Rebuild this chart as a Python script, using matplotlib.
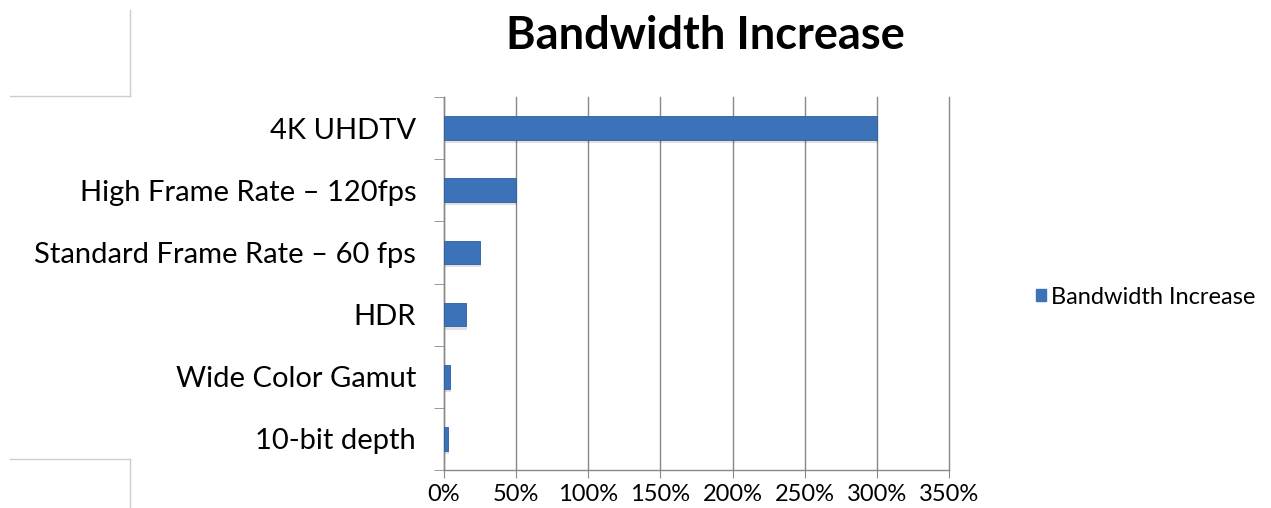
import matplotlib.pyplot as plt
from matplotlib.lines import Line2D
from matplotlib.patches import Patch
import numpy as np

categories = ["4K UHDTV", "High Frame Rate – 120fps", "Standard Frame Rate – 60 fps",
              "HDR", "Wide Color Gamut", "10-bit depth"]
values = [300, 50, 25, 15, 4, 3]
xticks = [0, 50, 100, 150, 200, 250, 300, 350]
xticklabels = [f"{t}%" for t in xticks]
series_name = "Bandwidth Increase"

plt.rcParams['font.family'] = ['Lato', 'DejaVu Sans']

W, H = 1271, 508
fig = plt.figure(figsize=(W / 100, H / 100), dpi=100)
ax = fig.add_axes([444 / W, 1 - 470 / H, (949 - 444) / W, (470 - 97) / H])

n = len(categories)
y = np.arange(n)[::-1]
color = "#3C72B8"
# soft shadow
ax.barh(y - 0.05, values, height=0.38, color="#000000", alpha=0.12, zorder=2, left=0.8)
ax.barh(y, values, height=0.38, color=color, edgecolor="#2f5f9e", linewidth=0.6, zorder=3,
        label=series_name)

ax.set_xlim(0, 350)
ax.set_ylim(-0.5, n - 0.5)
ax.set_xticks(xticks)
ax.set_xticklabels(xticklabels, fontsize=17)
ax.set_yticks(y)
ax.set_yticklabels(categories, fontsize=21)
ax.tick_params(axis='y', length=0, pad=20)
ax.tick_params(axis='x', length=6, color="#888888", pad=4)
# category boundary ticks
ax.set_yticks(np.arange(-0.5, n, 1.0), minor=True)
ax.tick_params(axis='y', which='minor', length=7, color="#888888")

ax.grid(axis='x', color="#888888", linewidth=1.0, zorder=0)
for gl in ax.get_xgridlines():
    gl.set_clip_on(False)
for s in ['top', 'right']:
    ax.spines[s].set_visible(False)
for s in ['left', 'bottom']:
    ax.spines[s].set_color("#888888")
    ax.spines[s].set_linewidth(1.0)

fig.text(705 / W, 1 - 36 / H, "Bandwidth Increase", ha='center', va='center',
         fontsize=32.5, fontweight='bold')

ax.legend(handles=[Patch(facecolor=color, edgecolor=color)], labels=[series_name],
          loc='center left', bbox_to_anchor=(1036 / W, 1 - 297 / H),
          bbox_transform=fig.transFigure, frameon=False, fontsize=17,
          borderaxespad=0, borderpad=0,
          handlelength=0.42, handleheight=0.42, handletextpad=0.2)

# decorative slide corner lines
lc = "#cccccc"
fig.add_artist(Line2D([10 / W, 130 / W], [1 - 96 / H, 1 - 96 / H], color=lc, lw=1))
fig.add_artist(Line2D([130 / W, 130 / W], [1 - 10 / H, 1 - 96 / H], color=lc, lw=1))
fig.add_artist(Line2D([10 / W, 130 / W], [1 - 459 / H, 1 - 459 / H], color=lc, lw=1))
fig.add_artist(Line2D([130 / W, 130 / W], [1 - 459 / H, 0], color=lc, lw=1))

fig.savefig("out.png", dpi=100)
